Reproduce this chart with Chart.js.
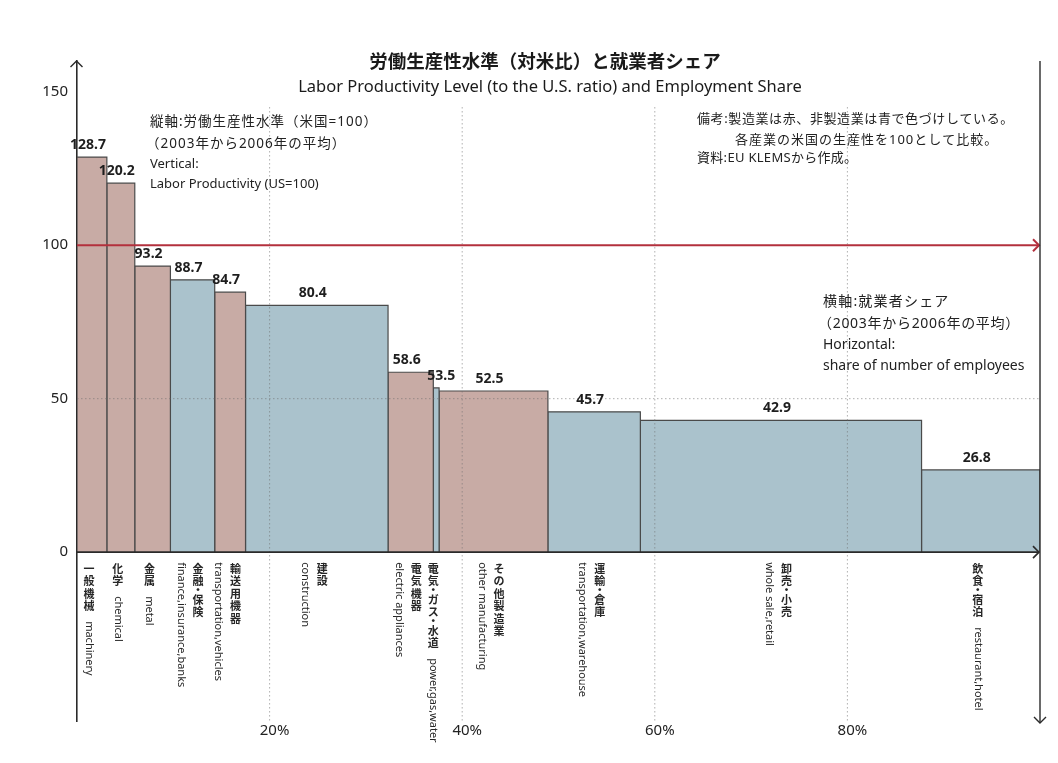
<!DOCTYPE html>
<html lang="ja">
<head>
<meta charset="utf-8">
<title>労働生産性水準（対米比）と就業者シェア</title>
<script src="https://cdn.jsdelivr.net/npm/chart.js@4.4.1/dist/chart.umd.min.js"></script>
<style>
  html, body { margin: 0; padding: 0; background: #fff; }
  #wrap { width: 1058px; height: 763px; position: relative; }
</style>
</head>
<body>
<div id="wrap"><canvas id="chart"></canvas></div>
<script>
'use strict'
// industries from left to right, ordered by productivity
var industryNames = ['一般機械', '化学', '金属', '金融・保険', '輸送用機器', '建設',
  '電気機器', '電気・ガス・水道', 'その他製造業', '運輸・倉庫', '卸売・小売', '飲食・宿泊'];
// axis captions under each bar (one entry per column of vertical text)
var industryLabels = [
  ['一般機械　machinery'],
  ['化学　chemical'],
  ['金属　metal'],
  ['finance,insurance,banks', '金融・保険'],
  ['transportation,vehicles', '輸送用機器'],
  ['construction', '建設'],
  ['electric appliances', '電気機器'],
  ['電気・ガス・水道　power,gas,water'],
  ['other manufacturing', 'その他製造業'],
  ['transportation,warehouse', '運輸・倉庫'],
  ['whole sale,retail', '卸売・小売'],
  ['飲食・宿泊　restaurant,hotel']
];
// share of employees (%), bar widths
var employmentShare = [3.1, 2.9, 3.7, 4.6, 3.2, 14.8, 4.7, 0.6, 11.3, 9.6, 29.2, 12.3];
// labor productivity, US = 100
var productivity = [128.7, 120.2, 93.2, 88.7, 84.7, 80.4, 58.6, 53.5, 52.5, 45.7, 42.9, 26.8];
var manufacturing = [true, true, true, false, true, false, true, false, true, false, false, false];
var xTicks = [20, 40, 60, 80];
var yTicks = [0, 50, 100, 150];
var usLevel = 100;

var RED_FILL = '#c8aba5';
var BLUE_FILL = '#aac2cc';
var EN_FONT = '"Noto Sans", "Noto Sans CJK JP", sans-serif';
var JA_FONT = '"Noto Sans CJK JP", sans-serif';

// each bar is a closed outline: left edge, top, right edge, filled down to 0
var start = 0;
var datasets = productivity.map(function (value, i) {
  var x0 = start;
  var x1 = start + employmentShare[i];
  start = x1;
  return {
    label: industryNames[i],
    data: [{x: x0, y: 0}, {x: x0, y: value}, {x: x1, y: value}, {x: x1, y: 0}],
    fill: 'origin',
    backgroundColor: manufacturing[i] ? RED_FILL : BLUE_FILL,
    borderColor: '#4a4a4a',
    borderWidth: 1.2,
    pointRadius: 0,
    tension: 0
  };
});

function isWide(ch) {
  return ch.charCodeAt(0) > 0x2e7f;
}

// Japanese upright, latin runs turned 90 degrees
function drawVertical(ctx, text, x, y) {
  var i = 0;
  while (i < text.length) {
    var ch = text[i];
    if (ch === '\u3000') {
      y += 9;
      i++;
    } else if (isWide(ch)) {
      var step = ch === '・' ? 6 : 12.5;
      ctx.font = 'bold 11px ' + JA_FONT;
      ctx.textAlign = 'center';
      ctx.textBaseline = 'middle';
      ctx.fillText(ch, x, y + step / 2);
      y += step;
      i++;
    } else {
      var j = i;
      while (j < text.length && !isWide(text[j])) j++;
      var run = text.slice(i, j);
      ctx.save();
      ctx.font = '11px ' + EN_FONT;
      ctx.translate(x, y);
      ctx.rotate(Math.PI / 2);
      ctx.textAlign = 'left';
      ctx.textBaseline = 'middle';
      ctx.fillText(run, 0, 0);
      y += ctx.measureText(run).width;
      ctx.restore();
      i = j;
    }
  }
}

function arrowHead(ctx, x, y, dir) {
  var s = 6;
  ctx.beginPath();
  if (dir === 'up') {
    ctx.moveTo(x - s, y + s); ctx.lineTo(x, y); ctx.lineTo(x + s, y + s);
  } else if (dir === 'down') {
    ctx.moveTo(x - s, y - s); ctx.lineTo(x, y); ctx.lineTo(x + s, y - s);
  } else {
    ctx.moveTo(x - s, y - s); ctx.lineTo(x, y); ctx.lineTo(x - s, y + s);
  }
  ctx.stroke();
}

function line(ctx, x0, y0, x1, y1) {
  ctx.beginPath();
  ctx.moveTo(x0, y0);
  ctx.lineTo(x1, y1);
  ctx.stroke();
}

function note(ctx, text, x, y, size, spacing) {
  ctx.font = size + 'px ' + EN_FONT;
  ctx.letterSpacing = (spacing || 0) + 'px';
  ctx.fillText(text, x, y);
  ctx.letterSpacing = '0px';
}

var decorations = {
  id: 'decorations',
  afterDatasetsDraw: function (chart) {
    var ctx = chart.ctx;
    var xs = chart.scales.x;
    var ys = chart.scales.y;
    var area = chart.chartArea;
    var left = xs.getPixelForValue(0);
    var right = xs.getPixelForValue(100);
    var zero = ys.getPixelForValue(0);

    ctx.save();
    // dotted grid
    ctx.strokeStyle = 'rgba(110,110,110,0.55)';
    ctx.lineWidth = 1;
    ctx.setLineDash([1.5, 2.5]);
    xTicks.forEach(function (t) {
      var px = xs.getPixelForValue(t);
      line(ctx, px, ys.getPixelForValue(145), px, area.bottom);
    });
    line(ctx, left, ys.getPixelForValue(50), right, ys.getPixelForValue(50));
    ctx.setLineDash([]);

    // US level
    ctx.strokeStyle = '#b3303d';
    ctx.lineWidth = 2;
    var py = ys.getPixelForValue(usLevel);
    line(ctx, left, py, right - 1, py);
    arrowHead(ctx, right - 1, py, 'right');

    // horizontal axis, right border and y-axis arrow
    ctx.strokeStyle = '#2a2a2a';
    ctx.lineWidth = 1.6;
    line(ctx, left, zero, right - 1, zero);
    arrowHead(ctx, right - 1, zero, 'right');
    ctx.lineWidth = 1.4;
    line(ctx, right, area.top, right, area.bottom + 2);
    arrowHead(ctx, right, area.bottom + 2, 'down');
    arrowHead(ctx, left - 0.5, area.top, 'up');

    // value labels
    ctx.fillStyle = '#1e1e1e';
    ctx.font = 'bold 14px ' + EN_FONT;
    ctx.textAlign = 'center';
    ctx.textBaseline = 'middle';
    var s = 0;
    productivity.forEach(function (v, i) {
      var x0 = xs.getPixelForValue(s);
      var x1 = xs.getPixelForValue(s + employmentShare[i]);
      s += employmentShare[i];
      var cx = Math.max((x0 + x1) / 2 - 4, x0 + 8);
      ctx.fillText(v.toFixed(1), cx, ys.getPixelForValue(v) - 12);
    });

    // industry captions under the axis
    ctx.fillStyle = '#262626';
    s = 0;
    industryLabels.forEach(function (cols, i) {
      var x0 = xs.getPixelForValue(s);
      var x1 = xs.getPixelForValue(s + employmentShare[i]);
      s += employmentShare[i];
      var cx = (x0 + x1) / 2 - 3;
      var gap = 17;
      cols.forEach(function (text, k) {
        var px = cx + (k - (cols.length - 1) / 2) * gap;
        drawVertical(ctx, text, px, zero + 10);
      });
    });
    ctx.restore();
  },
  afterDraw: function (chart) {
    var ctx = chart.ctx;
    ctx.save();
    ctx.fillStyle = '#1a1a1a';
    ctx.textBaseline = 'middle';
    ctx.textAlign = 'center';
    ctx.font = 'bold 18.5px ' + JA_FONT;
    ctx.fillText('労働生産性水準（対米比）と就業者シェア', 545, 61);
    ctx.font = '16.5px ' + EN_FONT;
    ctx.fillText('Labor Productivity Level (to the U.S. ratio) and Employment Share', 550, 87);

    ctx.textAlign = 'left';
    ctx.fillStyle = '#222';
    note(ctx, '縦軸:労働生産性水準（米国=100）', 150, 122, 13.5, 1);
    note(ctx, '（2003年から2006年の平均）', 146, 144, 13.5, 1);
    note(ctx, 'Vertical:', 150, 164, 13);
    note(ctx, 'Labor Productivity (US=100)', 150, 184, 13);

    note(ctx, '備考:製造業は赤、非製造業は青で色づけしている。', 697, 119, 13, 0.6);
    note(ctx, '各産業の米国の生産性を100として比較。', 735, 140, 13, 1);
    note(ctx, '資料:EU KLEMSから作成。', 697, 158, 13, 0.3);

    note(ctx, '横軸:就業者シェア', 823, 302, 14, 1.2);
    note(ctx, '（2003年から2006年の平均）', 818, 324, 14, 0.7);
    note(ctx, 'Horizontal:', 823, 345, 14);
    note(ctx, 'share of number of employees', 823, 366, 14);
    ctx.restore();
  }
};

var ctx = document.getElementById('chart').getContext('2d');
var chart = new Chart(ctx, {
  type: 'line',
  data: { datasets: datasets },
  options: {
    responsive: true,
    maintainAspectRatio: false,
    animation: false,
    layout: { padding: { top: 61, right: 18, left: 0, bottom: 0 } },
    plugins: {
      legend: { display: false },
      tooltip: { enabled: false }
    },
    scales: {
      x: {
        type: 'linear',
        min: 0,
        max: 100,
        afterBuildTicks: function (scale) {
          scale.ticks = xTicks.map(function (v) { return {value: v}; });
        },
        afterFit: function (scale) { scale.height = 42; },
        grid: { display: false, drawTicks: false },
        border: { display: false },
        ticks: {
          padding: 1,
          labelOffset: 5,
          color: '#222',
          font: { family: EN_FONT, size: 15 },
          callback: function (v) { return v + '%'; }
        }
      },
      y: {
        type: 'linear',
        min: -55,
        max: 160,
        afterBuildTicks: function (scale) {
          scale.ticks = yTicks.map(function (v) { return {value: v}; });
        },
        afterFit: function (scale) { scale.width = 77; },
        grid: { display: false, drawTicks: false },
        border: { display: true, color: '#2a2a2a', width: 1.6 },
        ticks: {
          padding: 9,
          color: '#222',
          font: { family: EN_FONT, size: 15 }
        }
      }
    }
  },
  plugins: [decorations]
});
</script>
</body>
</html>
